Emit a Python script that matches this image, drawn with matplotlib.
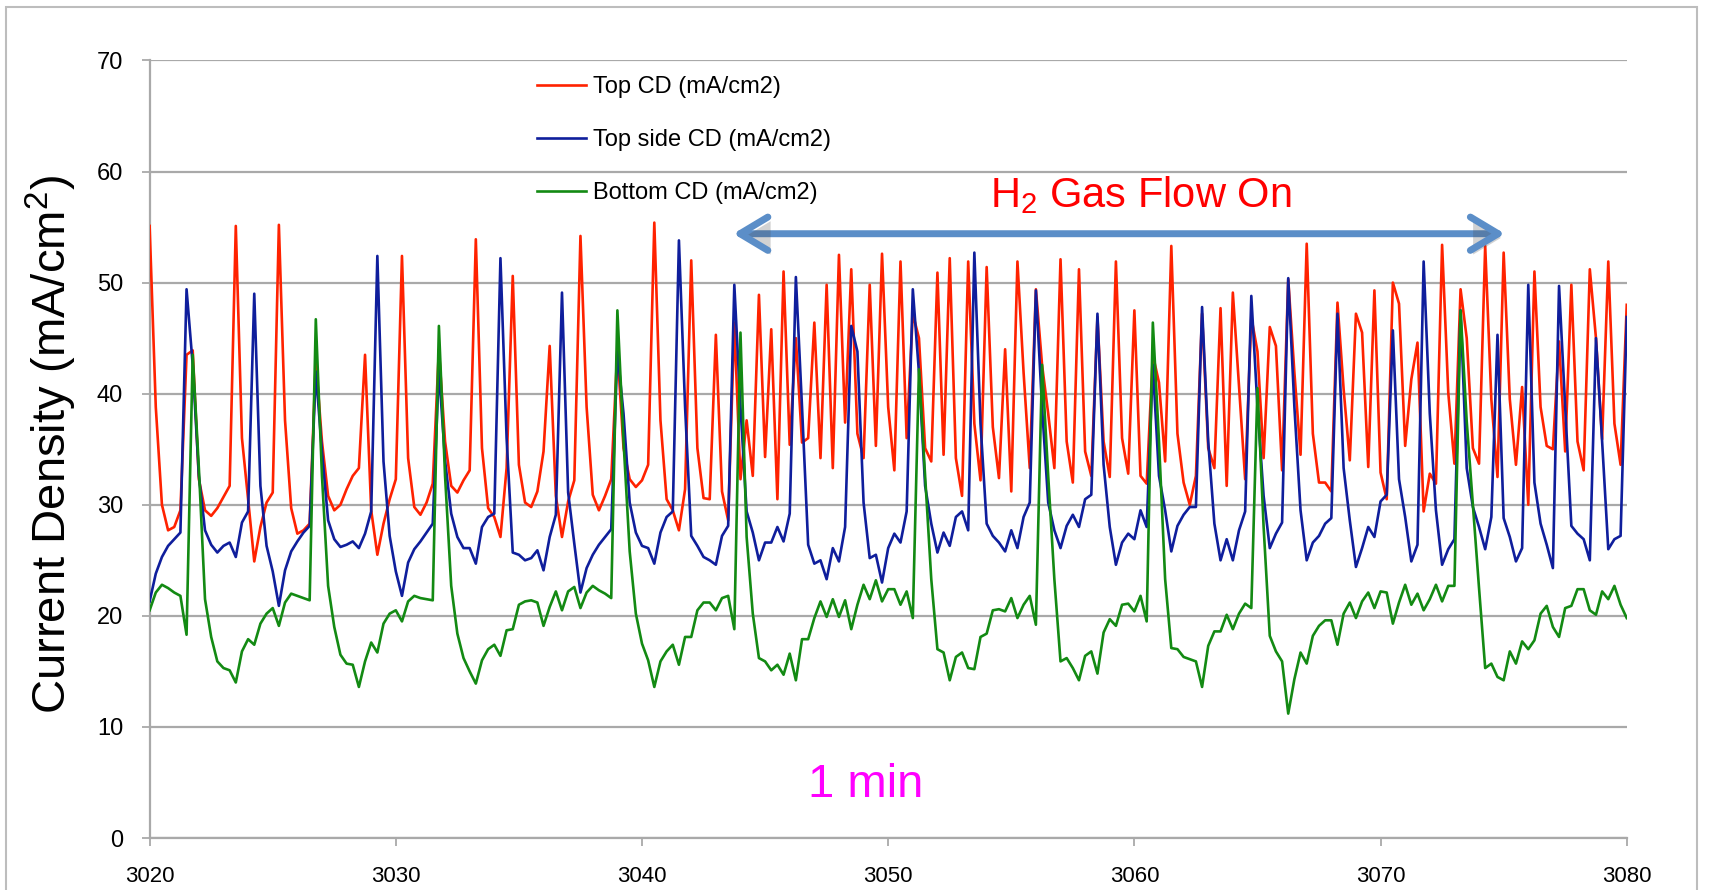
import numpy as np
import matplotlib
matplotlib.use("Agg")
import matplotlib.pyplot as plt
import matplotlib.patheffects as pe
from matplotlib.patches import Rectangle, FancyArrowPatch

# Sampling: one reading every 0.25 time units from 3020 to 3080
t_start, t_step = 3020.0, 0.25

top_cd = [
    55.1, 38.8, 30.0, 27.7, 28.0, 29.5, 43.5, 43.9, 32.3, 29.5,
    29.0, 29.7, 30.7, 31.7, 55.1, 36.0, 30.5, 24.9, 28.0, 30.2,
    31.1, 55.2, 37.6, 29.7, 27.4, 27.7, 28.3, 43.0, 35.7, 30.8,
    29.5, 30.0, 31.4, 32.6, 33.3, 43.5, 29.5, 25.5, 28.3, 30.5,
    32.3, 52.4, 34.2, 29.8, 29.1, 30.2, 31.9, 44.0, 35.7, 31.7,
    31.1, 32.2, 33.1, 53.9, 35.1, 29.7, 28.9, 27.1, 33.3, 50.6,
    33.6, 30.2, 29.8, 31.2, 34.8, 44.3, 30.8, 27.1, 30.3, 32.2,
    54.2, 38.8, 30.9, 29.5, 30.8, 32.3, 44.0, 35.1, 32.3, 31.6,
    32.2, 33.6, 55.4, 37.6, 30.5, 29.5, 27.7, 31.4, 52.0, 35.1,
    30.6, 30.5, 45.3, 31.2, 28.6, 46.4, 32.3, 37.6, 32.6, 48.9,
    34.3, 45.8, 30.5, 51.0, 35.4, 45.0, 35.6, 36.0, 46.4, 34.2,
    49.8, 33.3, 52.5, 37.4, 51.2, 36.4, 34.2, 49.8, 35.3, 52.6,
    38.8, 33.1, 51.9, 36.0, 47.2, 45.0, 35.1, 33.9, 50.9, 34.5,
    52.2, 34.2, 30.8, 51.9, 37.3, 32.2, 51.4, 37.0, 32.4, 44.0,
    31.2, 51.9, 41.9, 33.3, 49.4, 42.6, 38.2, 33.3, 52.1, 35.7,
    32.0, 51.2, 34.8, 32.6, 46.9, 35.7, 32.5, 51.9, 36.0, 32.8,
    47.5, 32.6, 31.9, 43.5, 41.0, 33.9, 53.3, 36.4, 32.0, 30.0,
    32.6, 47.2, 35.1, 33.3, 47.7, 31.7, 49.1, 40.7, 32.3, 46.9,
    43.8, 34.2, 46.0, 44.3, 33.1, 50.3, 41.9, 34.5, 53.5, 36.4,
    32.0, 32.0, 31.2, 48.2, 40.4, 34.0, 47.2, 45.5, 33.4, 49.3,
    32.9, 30.5, 50.0, 48.1, 35.3, 41.3, 44.6, 29.4, 32.8, 31.9,
    53.4, 40.1, 33.7, 49.4, 45.0, 35.1, 33.7, 53.3, 39.5, 32.5,
    52.7, 39.5, 33.6, 40.6, 30.0, 51.0, 38.8, 35.3, 35.0, 44.7,
    34.8, 49.8, 35.7, 33.1, 51.2, 45.0, 35.9, 51.9, 37.3, 33.6,
    48.0,
]

top_side_cd = [
    21.3, 23.8, 25.3, 26.3, 26.9, 27.5, 49.4, 42.6, 32.6, 27.7,
    26.4, 25.7, 26.3, 26.6, 25.3, 28.4, 29.4, 49.0, 31.7, 26.3,
    24.0, 20.9, 24.1, 25.8, 26.7, 27.5, 28.1, 42.0, 34.8, 28.6,
    26.9, 26.2, 26.4, 26.7, 26.1, 27.4, 29.4, 52.4, 33.9, 27.2,
    24.0, 21.8, 24.8, 26.0, 26.7, 27.5, 28.3, 42.2, 34.0, 29.2,
    27.1, 26.1, 26.1, 24.7, 28.0, 28.9, 29.2, 52.2, 36.0, 25.7,
    25.5, 25.0, 25.2, 25.9, 24.1, 27.1, 29.1, 49.1, 31.1, 26.5,
    22.1, 24.3, 25.5, 26.4, 27.1, 27.8, 43.8, 38.2, 30.2, 27.5,
    26.3, 26.1, 24.7, 27.5, 28.9, 29.4, 53.8, 38.8, 27.2, 26.3,
    25.3, 25.0, 24.6, 27.2, 28.1, 49.8, 38.8, 29.4, 27.5, 25.0,
    26.6, 26.6, 28.0, 26.7, 29.2, 50.5, 38.8, 26.4, 24.7, 25.0,
    23.3, 26.1, 24.9, 28.0, 46.1, 43.8, 30.2, 25.2, 25.5, 23.0,
    26.1, 27.4, 26.6, 29.4, 49.4, 41.9, 31.7, 28.3, 25.7, 27.5,
    26.3, 28.9, 29.4, 27.7, 52.7, 37.3, 28.3, 27.2, 26.6, 25.8,
    27.7, 26.1, 28.9, 30.2, 49.3, 38.8, 30.2, 27.7, 26.1, 28.1,
    29.1, 28.0, 30.5, 30.9, 47.2, 33.6, 28.0, 24.6, 26.6, 27.4,
    26.9, 29.5, 28.0, 42.6, 32.6, 29.5, 25.8, 28.1, 29.1, 29.8,
    29.8, 47.8, 35.7, 28.3, 25.0, 26.9, 25.0, 27.7, 29.4, 48.8,
    38.8, 30.8, 26.1, 27.4, 28.4, 50.4, 38.8, 29.5, 25.0, 26.6,
    27.2, 28.3, 28.8, 47.2, 33.3, 28.6, 24.4, 26.1, 28.0, 27.1,
    30.3, 30.9, 45.7, 32.3, 28.9, 24.9, 26.4, 51.9, 38.2, 29.5,
    24.6, 26.0, 26.9, 47.5, 33.3, 29.8, 28.0, 26.0, 28.9, 45.3,
    28.8, 27.1, 24.9, 26.1, 49.8, 32.0, 28.3, 26.4, 24.3, 49.7,
    38.8, 28.1, 27.4, 26.9, 25.0, 45.0, 35.7, 26.0, 26.9, 27.2,
    46.9,
]

bottom_cd = [
    20.5, 22.1, 22.8, 22.5, 22.1, 21.8, 18.3, 43.5, 33.3, 21.5,
    18.1, 15.9, 15.3, 15.1, 14.0, 16.8, 17.9, 17.4, 19.3, 20.2,
    20.7, 19.1, 21.2, 22.0, 21.8, 21.6, 21.4, 46.7, 32.6, 22.7,
    19.0, 16.5, 15.7, 15.6, 13.6, 15.9, 17.6, 16.7, 19.3, 20.2,
    20.5, 19.5, 21.3, 21.8, 21.6, 21.5, 21.4, 46.1, 32.6, 22.7,
    18.4, 16.2, 15.0, 13.9, 16.0, 17.0, 17.4, 16.4, 18.7, 18.8,
    21.0, 21.3, 21.4, 21.2, 19.1, 20.8, 22.2, 20.5, 22.2, 22.6,
    20.7, 22.1, 22.7, 22.3, 22.0, 21.6, 47.5, 35.7, 25.8, 20.2,
    17.5, 16.0, 13.6, 15.9, 16.8, 17.4, 15.6, 18.1, 18.1, 20.5,
    21.2, 21.2, 20.5, 21.6, 21.8, 18.8, 45.5, 27.1, 20.2, 16.2,
    15.9, 15.1, 15.6, 14.7, 16.6, 14.2, 17.9, 17.9, 19.8, 21.3,
    19.9, 21.5, 19.9, 21.4, 18.8, 21.0, 22.8, 21.5, 23.2, 21.3,
    22.4, 22.4, 21.0, 22.2, 19.8, 42.2, 32.6, 23.3, 17.0, 16.7,
    14.2, 16.3, 16.7, 15.3, 15.2, 18.1, 18.4, 20.5, 20.6, 20.4,
    21.6, 19.8, 21.0, 21.8, 19.2, 42.6, 32.6, 23.3, 15.9, 16.2,
    15.3, 14.2, 16.4, 16.8, 14.8, 18.5, 19.7, 19.1, 21.0, 21.1,
    20.4, 21.8, 19.5, 46.4, 35.7, 23.3, 17.1, 17.0, 16.3, 16.1,
    15.9, 13.6, 17.3, 18.6, 18.6, 20.1, 18.8, 20.2, 21.1, 20.7,
    40.5, 28.0, 18.2, 16.8, 15.9, 11.2, 14.3, 16.7, 15.7, 18.2,
    19.1, 19.6, 19.6, 17.4, 20.2, 21.2, 19.8, 21.3, 22.1, 20.7,
    22.2, 22.1, 19.3, 21.2, 22.8, 21.0, 22.0, 20.5, 21.5, 22.8,
    21.3, 22.7, 22.7, 47.5, 37.5, 30.0, 22.5, 15.3, 15.7, 14.5,
    14.2, 16.8, 15.7, 17.7, 17.0, 17.8, 20.2, 20.9, 19.0, 18.1,
    20.7, 20.9, 22.4, 22.4, 20.5, 20.1, 22.2, 21.5, 22.7, 21.0,
    19.8,
]

series_labels = ["Top CD (mA/cm2)", "Top side CD (mA/cm2)", "Bottom CD (mA/cm2)"]
x_ticks = [3020, 3030, 3040, 3050, 3060, 3070, 3080]
y_ticks = [0, 10, 20, 30, 40, 50, 60, 70]

time = t_start + t_step * np.arange(len(top_cd))

plt.rcParams["font.family"] = ["Liberation Sans", "DejaVu Sans"]
plt.rcParams["mathtext.default"] = "regular"

fig = plt.figure(figsize=(17.12, 8.90), dpi=100)
ax = fig.add_axes([0.0874, 0.0584, 0.8628, 0.8737])

grid_col = "#a9a9a9"
ax.plot(time, top_cd, color="#ff2200", lw=1.9, label=series_labels[0], zorder=3)
ax.plot(time, top_side_cd, color="#0f1e9c", lw=1.9, label=series_labels[1], zorder=4)
ax.plot(time, bottom_cd, color="#138a13", lw=1.9, label=series_labels[2], zorder=5)

ax.set_xlim(x_ticks[0], x_ticks[-1])
ax.set_ylim(y_ticks[0], y_ticks[-1])
ax.set_xticks(x_ticks)
ax.set_yticks(y_ticks)
ax.yaxis.grid(True, color=grid_col, lw=1.6)
ax.set_axisbelow(True)
for side in ("top", "right"):
    ax.spines[side].set_visible(False)
for side in ("left", "bottom"):
    ax.spines[side].set_color(grid_col)
    ax.spines[side].set_linewidth(1.6)
ax.tick_params(axis="x", direction="out", length=6, width=1.3, color=grid_col,
               labelsize=16, pad=14)
ax.tick_params(axis="y", direction="out", length=6, width=1.3, color=grid_col,
               labelsize=17, pad=13)

leg = ax.legend(loc="upper left", bbox_to_anchor=(0.262, 0.980), frameon=False,
                fontsize=17, handlelength=2.1, handletextpad=0.3,
                labelspacing=1.32, borderpad=0, borderaxespad=0)
for line in leg.get_lines():
    line.set_linewidth(1.9)

# Hydrogen flow window
arrow = FancyArrowPatch((3043.71, 54.4), (3075.05, 54.4),
                        arrowstyle="<->,head_length=1.0,head_width=0.6",
                        mutation_scale=20, lw=5, color="#5b8ec8", zorder=6,
                        shrinkA=0, shrinkB=0)
arrow.set_path_effects([pe.SimplePatchShadow(offset=(2, -3), alpha=0.25),
                        pe.Normal()])
ax.add_patch(arrow)
ax.text(3054.13, 56.76, r"H$_2$ Gas Flow On", color="#ff0000", fontsize=30,
        ha="left", va="baseline", zorder=7)
ax.text(3046.74, 3.7, "1 min", color="#ff00ff", fontsize=34,
        ha="left", va="baseline", zorder=7)

fig.text(0.030, 0.5, r"Current Density (mA/cm$^2$)", rotation=90,
         ha="center", va="center", fontsize=34)

fig.patches.append(Rectangle((0.0035, -0.02), 0.9877, 1.012, transform=fig.transFigure,
                             fill=False, edgecolor="#bdbdbd", lw=1.5))

fig.savefig("out.png", dpi=100)
